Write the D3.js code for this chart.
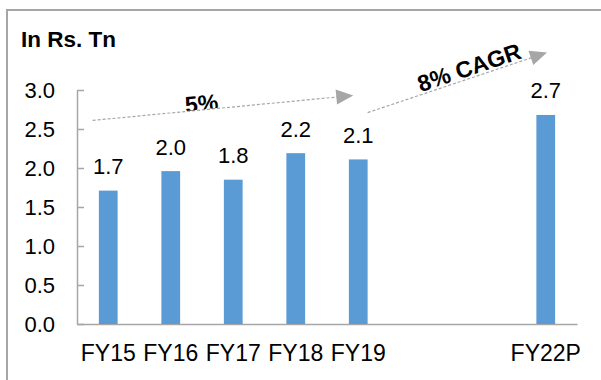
<!DOCTYPE html>
<html>
<head>
<meta charset="utf-8">
<script src="https://cdn.jsdelivr.net/npm/d3@7"></script>
<style>
  html, body { margin: 0; padding: 0; background: #fff; }
  svg { display: block; font-family: Arial, "Liberation Sans", sans-serif; }
</style>
</head>
<body>
<svg id="chart" width="601" height="380"></svg>
<script>
// Fiscal years on the category axis; FY20 and FY21 are left empty
const categories = ["FY15", "FY16", "FY17", "FY18", "FY19", "FY20", "FY21", "FY22P"];
const tickLabels = ["FY15", "FY16", "FY17", "FY18", "FY19", "", "", "FY22P"];
const values = [1.71, 1.96, 1.85, 2.19, 2.11, null, null, 2.68];
const valueLabels = ["1.7", "2.0", "1.8", "2.2", "2.1", "", "", "2.7"];
const yTicks = [0, 0.5, 1.0, 1.5, 2.0, 2.5, 3.0];
const unitTitle = "In Rs. Tn";

// Growth arrows: category position (index) and value at each end
const growthLabels = ["5%", "8% CAGR"];
const growthFrom = [[-0.25, 2.61], [4.15, 2.71]];
const growthTo = [[3.92, 2.93], [7.02, 3.48]];

const svg = d3.select("#chart");
const grey = "#a6a6a6";
const blue = "#5b9bd5";
const font = "Arial, 'Liberation Sans', sans-serif";

const plot = { left: 77, right: 577, top: 90, bottom: 324 };

const x = d3.scaleBand().domain(categories)
  .range([plot.left, plot.right]).paddingInner(0.7).paddingOuter(0.35);
const xi = d3.scaleLinear().domain([-0.5, categories.length - 0.5])
  .range([plot.left, plot.right]);
const y = d3.scaleLinear().domain([0, 3]).range([plot.bottom, plot.top]);

// Outer frame (open to the right and bottom)
svg.append("rect")
  .attr("x", 7).attr("y", 10).attr("width", 800).attr("height", 600)
  .attr("fill", "none").attr("stroke", grey).attr("stroke-width", 2);

// Unit title
svg.append("text")
  .attr("x", 21).attr("y", 46.5)
  .attr("font-size", 22.5).attr("font-weight", "bold").attr("fill", "#000")
  .text(unitTitle);

// Y axis with inward ticks
const yAxis = d3.axisLeft(y).tickValues(yTicks)
  .tickFormat(d3.format(".1f")).tickSizeInner(-7).tickSizeOuter(0).tickPadding(22);
const gy = svg.append("g").attr("transform", `translate(${plot.left},0)`).call(yAxis);
gy.select(".domain").attr("stroke", grey).attr("stroke-width", 1.5);
gy.selectAll(".tick line").attr("stroke", grey).attr("stroke-width", 1.5);
gy.selectAll(".tick text").attr("font-size", 22).attr("fill", "#000")
  .attr("font-family", font);

// X axis
const xAxis = d3.axisBottom(x).tickSize(0).tickSizeOuter(0).tickPadding(21)
  .tickFormat((d, i) => tickLabels[i]);
const gx = svg.append("g").attr("transform", `translate(0,${plot.bottom})`).call(xAxis);
gx.select(".domain").attr("stroke", grey).attr("stroke-width", 1.5);
gx.selectAll(".tick text").attr("font-size", 23).attr("fill", "#000")
  .attr("font-family", font);

// Bars
const rows = categories.map((c, i) => ({ c, v: values[i], label: valueLabels[i] }))
  .filter(d => d.v != null);

svg.append("g").selectAll("rect").data(rows).join("rect")
  .attr("x", d => x(d.c)).attr("width", x.bandwidth())
  .attr("y", d => y(d.v)).attr("height", d => y(0) - y(d.v))
  .attr("fill", blue);

// Value labels
svg.append("g").selectAll("text").data(rows).join("text")
  .attr("x", d => x(d.c) + x.bandwidth() / 2)
  .attr("y", d => y(d.v) - 16.5)
  .attr("text-anchor", "middle").attr("font-size", 22).attr("fill", "#000")
  .text(d => d.label);

// Growth arrows with rotated labels
const defs = svg.append("defs");
growthLabels.forEach((label, k) => {
  const x0 = xi(growthFrom[k][0]), y0 = y(growthFrom[k][1]);
  const x1 = xi(growthTo[k][0]), y1 = y(growthTo[k][1]);
  const len = Math.hypot(x1 - x0, y1 - y0);
  const ang = Math.atan2(y1 - y0, x1 - x0) * 180 / Math.PI;
  const head = 17, half = 7.5;

  const g = svg.append("g")
    .attr("transform", `translate(${x0},${y0}) rotate(${ang})`);
  g.append("line")
    .attr("x1", 0).attr("y1", 0).attr("x2", len - head + 1).attr("y2", 0)
    .attr("stroke", grey).attr("stroke-width", 1.2).attr("stroke-dasharray", "3,2");
  g.append("path")
    .attr("d", `M${len},0 L${len - head},${-half} L${len - head},${half} Z`)
    .attr("fill", grey);

  if (k === 0) {
    // the small label box cuts off the bottom of its text
    const clipId = "growthClip" + k;
    defs.append("clipPath").attr("id", clipId)
      .append("rect").attr("x", 0).attr("y", -40).attr("width", len).attr("height", 39.5);
    g.append("text")
      .attr("clip-path", `url(#${clipId})`)
      .attr("x", len * 0.42).attr("y", 1.5)
      .attr("text-anchor", "middle").attr("font-size", 23).attr("font-weight", "bold")
      .attr("fill", "#000")
      .text(label);
  } else {
    g.append("text")
      .attr("x", len * 0.585).attr("y", -2.5)
      .attr("text-anchor", "middle").attr("font-size", 23).attr("font-weight", "bold")
      .attr("fill", "#000")
      .text(label);
  }
});
</script>
</body>
</html>
